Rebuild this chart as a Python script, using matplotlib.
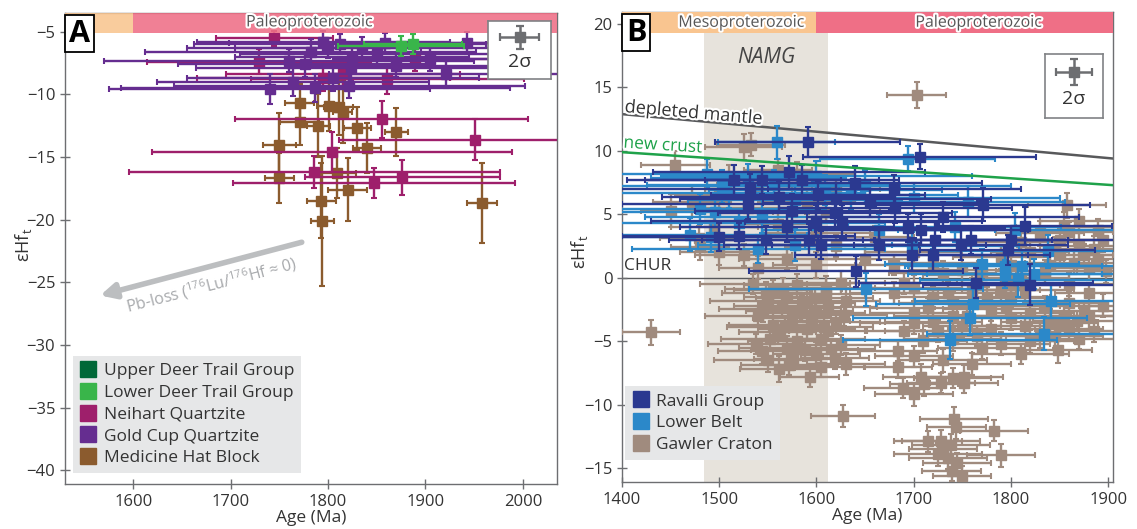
import matplotlib
matplotlib.use('Agg')
import matplotlib.pyplot as plt
from matplotlib.lines import Line2D
from matplotlib.patches import Rectangle
import matplotlib.patheffects as pe

plt.rcParams['font.family'] = ['Open Sans', 'DejaVu Sans']
plt.rcParams['mathtext.fontset'] = 'custom'
plt.rcParams['mathtext.rm'] = 'Open Sans'
plt.rcParams['mathtext.it'] = 'Open Sans:italic'

# ---------------- Panel A data ----------------
gold_age  = [1795, 1812, 1835, 1858, 1943, 1782, 1825, 1760, 1776, 1824, 1905, 1921, 1805, 1764, 1740, 1822, 1787, 1850, 1870, 1800]
gold_ehf  = [-5.8, -6.0, -6.3, -5.9, -5.9, -6.6, -7.0, -7.3, -7.6, -7.9, -7.2, -8.4, -8.7, -9.0, -9.6, -9.3, -9.5, -6.8, -7.7, -6.3]
gold_xerr = [130, 150, 180, 160, 60, 170, 120, 190, 130, 160, 100, 120, 150, 140, 165, 180, 200, 140, 110, 95]
gold_yerr = [0.9, 0.8, 0.9, 0.8, 0.9, 1.0, 0.9, 0.9, 1.0, 1.0, 0.9, 1.1, 1.0, 1.1, 1.2, 1.0, 1.1, 0.9, 0.9, 0.8]

neih_age  = [1745, 1729, 1815, 1861, 1889, 1795, 1855, 1951, 1804, 1786, 1876, 1847]
neih_ehf  = [-5.5, -7.4, -8.4, -8.8, -7.2, -8.7, -12.0, -13.6, -14.6, -16.2, -16.6, -17.1]
neih_xerr = [60, 115, 120, 140, 80, 130, 150, 140, 185, 190, 100, 145]
neih_yerr = [0.6, 1.0, 1.2, 1.2, 0.9, 1.0, 1.5, 1.6, 1.6, 1.3, 1.4, 1.2]

mhb_age  = [1771, 1801, 1811, 1771, 1790, 1830, 1870, 1750, 1840, 1750, 1809, 1820, 1793, 1794, 1958, 1815]
mhb_ehf  = [-10.7, -10.9, -11.0, -12.2, -12.5, -12.7, -13.0, -14.0, -14.3, -16.7, -16.3, -17.6, -18.5, -20.1, -18.7, -11.4]
mhb_xerr = [15, 12, 15, 20, 12, 14, 12, 17, 14, 15, 20, 20, 15, 12, 15, 10]
mhb_yerr = [1.5, 2.0, 2.2, 1.8, 2.5, 1.7, 1.9, 2.5, 2.0, 2.0, 2.0, 2.5, 3.0, 5.2, 3.2, 2.5]

ldt_age  = [1875, 1887]
ldt_ehf  = [-6.1, -6.0]
ldt_xerr = [65, 50]
ldt_yerr = [0.8, 0.8]

udt_age, udt_ehf, udt_xerr, udt_yerr = [], [], [], []

# ---------------- Panel B data ----------------
rav_age  = [1591, 1706, 1771, 1814, 1520, 1548, 1641, 1764, 1820, 1515, 1544, 1585, 1640, 1602, 1561, 1575,
            1619, 1655, 1681, 1626, 1708, 1722, 1694, 1664, 1698, 1749, 1759, 1720, 1592, 1605, 1797, 1530, 1570,
            1500, 1532, 1620, 1680, 1600, 1572, 1730, 1800]
rav_ehf  = [10.7, 9.55, 5.75, 4.1, 3.3, 3.0, 0.5, -0.4, -0.55, 7.7, 7.7, 7.7, 7.5, 6.5, 6.4, 5.3,
            5.1, 5.9, 5.5, 4.4, 3.8, 3.0, 3.9, 2.6, 1.8, 2.6, 3.0, 1.8, 3.0, 2.6, 2.2, 5.8, 4.0,
            3.2, 7.0, 6.2, 7.0, 4.5, 8.3, 4.8, 3.0]
rav_xerr = [95, 120, 110, 90, 120, 100, 110, 120, 110, 110, 120, 100, 130, 110, 120, 100,
            120, 110, 120, 100, 110, 120, 100, 110, 120, 110, 100, 120, 110, 100, 90, 130, 110,
            130, 150, 160, 130, 170, 140, 140, 140]
rav_yerr = [1.2, 1.0, 1.3, 1.5, 1.0, 1.1, 1.2, 1.2, 1.6, 1.2, 1.1, 1.2, 1.3, 1.1, 1.2, 1.3,
            1.2, 1.1, 1.2, 1.3, 1.2, 1.4, 1.1, 1.2, 1.3, 1.2, 1.1, 1.3, 1.2, 1.1, 1.2, 1.2, 1.2,
            1.1, 1.2, 1.3, 1.1, 1.2, 1.3, 1.2, 1.1]

lb_age  = [1559, 1694, 1651, 1761, 1758, 1737, 1834, 1841, 1807, 1838, 1794, 1487, 1503, 1530, 1556, 1578,
           1609, 1636, 1544, 1496, 1492, 1578, 1664, 1698, 1756, 1804, 1742, 1770, 1811, 1824, 1794,
           1480, 1470, 1510, 1520, 1600, 1650, 1700, 1540]
lb_ehf  = [10.7, 9.4, -0.9, -2.1, -3.2, -4.9, -4.4, -1.8, -0.2, 2.1, 0.9, 8.2, 7.2, 7.9, 7.3, 6.1,
           6.9, 6.5, 4.8, 5.2, 3.2, 2.6, 3.8, 2.5, 6.0, 3.8, 4.0, 1.1, 0.9, 0.3, 0.3,
           5.4, 3.4, 6.7, 4.3, 8.0, 7.2, 6.3, 2.3]
lb_xerr = [60, 90, 120, 100, 120, 110, 120, 140, 100, 120, 100, 110, 120, 100, 130, 110,
           120, 110, 120, 130, 110, 100, 120, 110, 100, 120, 110, 100, 120, 110, 100,
           130, 120, 140, 150, 160, 150, 150, 130]
lb_yerr = [1.3, 1.0, 1.3, 1.2, 1.3, 1.5, 1.3, 1.4, 1.3, 1.3, 1.2, 1.2, 1.3, 1.1, 1.2, 1.3,
           1.2, 1.1, 1.3, 1.2, 1.2, 1.3, 1.2, 1.1, 1.2, 1.3, 1.2, 1.2, 1.3, 1.2, 1.1,
           1.2, 1.3, 1.2, 1.1, 1.2, 1.3, 1.2, 1.1]

gaw_age = [1703, 1430, 1455, 1472, 1450, 1479, 1480, 1525, 1533,
           1500, 1530, 1560, 1600, 1620, 1650, 1680, 1570, 1600, 1540, 1700, 1720, 1750, 1660, 1590, 1620, 1500, 1560,
           1858, 1855, 1850, 1870, 1890, 1880, 1860, 1840, 1820, 1800, 1895, 1870, 1830, 1810, 1790, 1845, 1865, 1885, 1898,
           1555, 1570, 1590, 1610, 1630, 1545, 1600, 1575, 1620, 1590, 1560, 1605, 1580, 1544, 1576, 1593, 1619, 1561,
           1600, 1625, 1610, 1555, 1595, 1615, 1570, 1585, 1548, 1612,
           1680, 1700, 1720, 1740, 1760, 1780, 1800, 1820, 1840, 1860, 1880, 1700, 1720, 1750, 1780, 1800, 1830, 1860,
           1690, 1710, 1740, 1770, 1684, 1684, 1708, 1752, 1848, 1730, 1700, 1760, 1880, 1895, 1870, 1820, 1800, 1850,
           1689, 1711, 1728, 1752, 1700, 1740, 1627, 1741, 1783, 1744, 1715, 1728, 1730, 1790, 1739, 1735, 1745, 1725,
           1750, 1738,
           1535, 1550, 1565, 1580, 1598, 1625, 1540, 1552, 1568, 1583, 1608, 1628, 1538, 1588, 1605, 1630, 1572, 1550,
           1612, 1566,
           1690, 1715, 1735, 1755, 1775, 1795, 1815, 1835, 1855, 1875, 1725, 1765, 1790, 1815, 1845, 1868, 1885, 1700,
           1740, 1810,
           1730, 1770, 1790, 1810, 1835, 1860, 1875, 1890, 1850,
           1510, 1540, 1580, 1495, 1525, 1610]
gaw_ehf = [14.4, -4.3, 8.9, 6.0, 5.3, 3.1, 2.4, 10.3, 10.5,
           6.5, 5.5, 4.2, 3.5, 2.5, 1.5, 1.0, 1.5, 1.0, 0.8, 2.0, 1.2, 0.6, 3.2, 6.0, 7.0, 2.0, 8.5,
           5.7, 4.0, 3.0, 2.5, 1.5, 0.8, -0.5, 1.0, 2.0, 1.0, 3.0, 4.5, 3.5, 0.0, -1.0, 2.2, 1.2, 2.3, 0.5,
           -1.0, -1.5, -2.0, -1.3, -1.8, -2.5, -2.8, -3.2, -3.5, -4.0, -4.3, -4.8, -5.0, -5.8, -6.4, -7.8, -6.3, -7.2,
           -6.0, -5.3, -0.8, -3.7, -3.4, -5.6, -5.5, -2.4, -1.2, -4.2,
           -1.2, -0.8, -1.5, -2.0, -1.0, -2.5, -1.5, -2.8, -3.5, -2.0, -1.2, -2.8, -3.5, -3.8, -4.0, -3.2, -4.5, -4.0,
           -4.2, -5.0, -4.8, -5.5, -5.8, -7.0, -7.8, -7.8, -5.7, -6.5, -6.2, -6.8, -3.0, -2.2, -4.8, -5.0, -0.6, -3.6,
           -8.7, -8.4, -8.3, -8.3, -9.2, -7.9, -10.9, -11.1, -12.05, -11.8, -12.9, -12.9, -13.5, -14.0, -15.2, -14.2, -14.6, -13.9,
           -15.6, -13.2,
           -0.5, -1.8, -2.2, -0.6, -1.6, -0.4, -3.0, -4.8, -3.9, -2.6, -3.9, -2.9, -5.2, -5.7, -7.0, -6.8, -6.9, -6.5,
           -2.3, -0.9,
           -0.4, -2.4, -1.2, -3.0, -1.6, -2.2, -1.0, -2.2, -3.0, -2.6, -4.2, -4.6, -5.2, -3.8, -4.6, -3.4, -4.2, -3.6,
           -3.0, -6.0,
           0.4, 0.2, 1.6, 2.8, 0.5, 3.6, 1.8, 3.8, 1.8,
           8.0, 7.0, 8.2, 4.0, 1.8, 5.2]
gaw_xerr = [30, 30, 35, 40, 30, 40, 30, 40, 35,
            45, 50, 40, 55, 45, 50, 40, 50, 45, 40, 50, 45, 55, 40, 50, 45, 40, 35,
            40, 50, 45, 40, 35, 45, 50, 45, 40, 50, 30, 40, 45, 50, 40, 45, 50, 40, 30,
            40, 45, 50, 40, 35, 45, 50, 40, 45, 50, 40, 45, 50, 45, 40, 30, 35, 40,
            45, 40, 50, 45, 40, 45, 50, 40, 45, 40,
            45, 50, 40, 55, 45, 50, 40, 45, 50, 40, 35, 45, 50, 40, 45, 50, 40, 35,
            40, 45, 50, 45, 40, 35, 40, 40, 35, 45, 40, 40, 30, 25, 40, 45, 50, 40,
            40, 35, 35, 35, 40, 40, 33, 35, 35, 30, 35, 40, 35, 35, 30, 40, 35, 45,
            30, 40,
            55, 60, 50, 55, 60, 45, 55, 50, 60, 55, 50, 45, 50, 55, 45, 40, 50, 55,
            50, 60,
            55, 60, 50, 55, 60, 55, 50, 60, 55, 45, 55, 60, 50, 55, 50, 45, 40, 55,
            60, 50,
            55, 60, 50, 55, 50, 45, 40, 30, 55,
            50, 55, 60, 45, 50, 55]
gaw_yerr = [1.0, 1.0, 1.1, 1.2, 1.3, 1.0, 1.0, 1.0, 0.9,
            1.0, 0.9, 1.0, 0.8, 0.9, 1.0, 0.8, 0.9, 1.0, 0.9, 0.8, 0.9, 1.0, 0.9, 1.0, 0.9, 1.0, 0.9,
            1.0, 1.2, 0.9, 1.0, 0.9, 1.0, 0.9, 1.0, 0.8, 0.9, 1.0, 0.9, 1.0, 0.8, 0.9, 1.0, 0.9, 1.0, 0.9,
            0.8, 0.9, 1.0, 0.8, 0.9, 1.0, 0.9, 0.8, 0.9, 1.0, 0.9, 0.8, 0.9, 1.0, 0.9, 0.8, 0.9, 1.0,
            0.9, 0.8, 0.9, 1.0, 0.9, 0.8, 0.9, 1.0, 0.9, 0.8,
            0.9, 1.0, 0.8, 0.9, 1.0, 0.9, 0.8, 0.9, 1.0, 0.9, 0.8, 0.9, 1.0, 0.9, 0.8, 0.9, 1.0, 0.9,
            0.8, 0.9, 1.0, 0.9, 0.8, 0.9, 1.0, 0.9, 1.0, 0.9, 0.8, 0.9, 1.0, 0.9, 0.8, 0.9, 0.9, 0.9,
            0.8, 0.9, 0.8, 0.8, 0.9, 0.8, 0.9, 0.9, 0.8, 0.9, 0.8, 0.9, 0.8, 0.9, 0.8, 0.9, 0.8, 0.9,
            0.8, 0.9,
            0.8, 0.9, 0.8, 0.9, 0.8, 0.9, 0.8, 0.9, 0.8, 0.9, 0.8, 0.9, 0.8, 0.9, 0.8, 0.9, 0.8, 0.9,
            0.8, 0.9,
            0.9, 0.8, 0.9, 0.8, 0.9, 0.8, 0.9, 0.8, 0.9, 0.8, 0.9, 0.8, 0.9, 0.8, 0.9, 0.8, 0.9, 0.8,
            0.9, 0.8,
            0.9, 0.8, 0.9, 0.8, 0.9, 0.8, 0.9, 0.8, 0.9,
            0.9, 0.8, 0.9, 1.0, 0.9, 0.8]

# reference lines (age, eHf) endpoints
dm_age, dm_ehf = [1400, 1905], [12.9, 9.4]
nc_age, nc_ehf = [1400, 1905], [9.9, 7.3]
chur_ehf = 0

# periods
period_names = ['Mesoproterozoic', 'Paleoproterozoic']
period_bounds = [(1000, 1600), (1600, 2500)]
period_colors = ['#f9c590', '#ef6f86']
namg_range = (1484, 1612)

# 2 sigma symbol
sig_xerr, sig_yerr = 1.0, 1.0

# colours
C_GOLD = '#652d90'
C_NEIH = '#9e1f6b'
C_MHB = '#8b5b2e'
C_LDT = '#39b54a'
C_UDT = '#006838'
C_RAV = '#2b3990'
C_LB = '#2b88c9'
C_GAW = '#a08b7e'
SPINE = '#6d6e71'
TXT = '#333333'

fig = plt.figure(figsize=(11.37, 5.29), dpi=100)
axA = fig.add_axes([65/1137, 1-484/529, 492/1137, 471/529])
axB = fig.add_axes([622/1137, 1-482/529, 491/1137, 470/529])


def eb(ax, a, e, xe, ye, c, z):
    if len(a) == 0:
        return
    ax.errorbar(a, e, xerr=xe, yerr=ye, fmt='s', color=c, mfc=c, mec=c, ms=6.5,
                elinewidth=1.7, capsize=2.5, capthick=1.5, zorder=z)


def style(ax, lx, ly):
    for s in ax.spines.values():
        s.set_color(SPINE)
        s.set_linewidth(1.0)
    ax.tick_params(direction='inout', length=7, width=1.0, color=SPINE,
                   labelsize=12, labelcolor=TXT)
    ax.set_xlabel('Age (Ma)', fontsize=12.5, color=TXT, labelpad=0)
    ax.set_ylabel('εHf$_\\mathregular{t}$', fontsize=13, color=TXT)
    ax.yaxis.set_label_coords(lx, ly)


def sigma_box(fig, rect):
    ins = fig.add_axes(rect)
    ins.set_xlim(-1.6, 1.6)
    ins.set_ylim(-3.2, 1.8)
    ins.set_xticks([])
    ins.set_yticks([])
    for s in ins.spines.values():
        s.set_color('#808285')
        s.set_linewidth(1.2)
    ins.errorbar([0], [0.4], xerr=[sig_xerr], yerr=[sig_yerr], fmt='s', color='#6d6e71',
                 ms=7, elinewidth=1.8, capsize=3, capthick=1.6)
    ins.text(0, -1.7, '2σ', ha='center', va='center', fontsize=14, color=TXT)
    ins.set_zorder(20)


def panel_label(ax, s):
    ax.text(0.008, 0.988, s, transform=ax.transAxes, ha='left', va='top', fontsize=22,
            fontweight='bold', zorder=30,
            bbox=dict(boxstyle='square,pad=0.12', fc='white', ec='black', lw=1.3))

# ---------------- Panel A ----------------
axA.set_xlim(1530, 2035)
axA.set_ylim(-41.1, -3.5)
eb(axA, mhb_age, mhb_ehf, mhb_xerr, mhb_yerr, C_MHB, 3)
eb(axA, neih_age, neih_ehf, neih_xerr, neih_yerr, C_NEIH, 4)
eb(axA, gold_age, gold_ehf, gold_xerr, gold_yerr, C_GOLD, 5)
eb(axA, udt_age, udt_ehf, udt_xerr, udt_yerr, C_UDT, 6)
eb(axA, ldt_age, ldt_ehf, ldt_xerr, ldt_yerr, C_LDT, 6)
for (lo, hi), c in zip(period_bounds, period_colors):
    axA.add_patch(Rectangle((lo, -5.1), hi - lo, 1.6, fc=c, ec='none', alpha=0.88, zorder=8))
axA.text(1781, -4.25, period_names[1], ha='center', va='center', fontsize=11.5, color='#555555',
         zorder=9, path_effects=[pe.withStroke(linewidth=3, foreground='white')])
axA.set_xticks([1600, 1700, 1800, 1900, 2000])
axA.set_yticks([-5, -10, -15, -20, -25, -30, -35, -40])
style(axA, -0.062, 0.507)
axA.annotate('', xy=(1566, -26.05), xytext=(1773, -21.8),
             arrowprops=dict(arrowstyle='-|>,head_length=0.9,head_width=0.45', color='#bcbec0', lw=4,
                             shrinkA=0, shrinkB=0))
axA.text(1680, -25.2, 'Pb-loss ($^{176}$Lu/$^{176}$Hf ≈ 0)', rotation=14.5, rotation_mode='anchor',
         ha='center', va='center', fontsize=11.5, color='#a7a9ac')
hA = [Line2D([], [], marker='s', ls='none', color=c, ms=11) for c in [C_UDT, C_LDT, C_NEIH, C_GOLD, C_MHB]]
lA = ['Upper Deer Trail Group', 'Lower Deer Trail Group', 'Neihart Quartzite', 'Gold Cup Quartzite',
      'Medicine Hat Block']
legA = axA.legend(hA, lA, loc='lower left', bbox_to_anchor=(0.016, 0.023), borderaxespad=0,
                  fontsize=12.5, frameon=True, facecolor='#e6e7e8', edgecolor='none', framealpha=1,
                  fancybox=False, handlelength=1.0, handletextpad=0.4, labelspacing=0.32, borderpad=0.4,
                  labelcolor=TXT)
legA.set_zorder(25)
panel_label(axA, 'A')
sigma_box(fig, [(65 + 423) / 1137, 1 - 79 / 529, 63 / 1137, 58 / 529])

# ---------------- Panel B ----------------
axB.set_xlim(1400, 1905)
axB.set_ylim(-16.1, 20.95)
axB.axvspan(namg_range[0], namg_range[1], ymin=0, ymax=1, fc='#e7e3dc', ec='none', zorder=0)
for (lo, hi), c in zip(period_bounds, period_colors):
    axB.add_patch(Rectangle((lo, 19.3), hi - lo, 1.65, fc=c, ec='none', zorder=8))
axB.text(1523, 20.1, period_names[0], ha='center', va='center', fontsize=11.5, color='#555555', zorder=9,
         path_effects=[pe.withStroke(linewidth=3, foreground='white')])
axB.text(1767, 20.1, period_names[1], ha='center', va='center', fontsize=11.5, color='#555555', zorder=9,
         path_effects=[pe.withStroke(linewidth=3, foreground='white')])
axB.text(1548, 17.4, 'NAMG', ha='center', va='center', fontsize=15, style='italic', color='#444444')
axB.axhline(chur_ehf, color='#58595b', lw=1.0, zorder=1)
axB.plot(dm_age, dm_ehf, color='#58595b', lw=1.8, zorder=2)
axB.plot(nc_age, nc_ehf, color='#1fa24a', lw=1.8, zorder=7)
eb(axB, gaw_age, gaw_ehf, gaw_xerr, gaw_yerr, C_GAW, 3)
eb(axB, lb_age, lb_ehf, lb_xerr, lb_yerr, C_LB, 4)
eb(axB, rav_age, rav_ehf, rav_xerr, rav_yerr, C_RAV, 5)
axB.text(1402, 12.75, 'depleted mantle', rotation=-5, rotation_mode='anchor', ha='left', va='bottom',
         fontsize=13, color=TXT, zorder=9, path_effects=[pe.withStroke(linewidth=3, foreground='white')])
axB.text(1401, 9.95, 'new crust', rotation=-3.6, rotation_mode='anchor', ha='left', va='bottom',
         fontsize=12.5, color='#1fa24a', zorder=9, path_effects=[pe.withStroke(linewidth=3, foreground='white')])
axB.text(1402, 0.3, 'CHUR', ha='left', va='bottom', fontsize=12.5, color=TXT, zorder=9)
axB.set_xticks([1400, 1500, 1600, 1700, 1800, 1900])
axB.set_yticks([20, 15, 10, 5, 0, -5, -10, -15])
style(axB, -0.066, 0.49)
hB = [Line2D([], [], marker='s', ls='none', color=c, ms=11) for c in [C_RAV, C_LB, C_GAW]]
legB = axB.legend(hB, ['Ravalli Group', 'Lower Belt', 'Gawler Craton'], loc='lower left',
                  bbox_to_anchor=(0.006, 0.047), borderaxespad=0, fontsize=12.5, frameon=True,
                  facecolor='#e6e7e8', edgecolor='none', framealpha=1, fancybox=False, handlelength=1.0,
                  handletextpad=0.4, labelspacing=0.32, borderpad=0.4, labelcolor=TXT)
legB.set_zorder(25)
panel_label(axB, 'B')
sigma_box(fig, [1045 / 1137, 1 - 118 / 529, 58 / 1137, 64 / 529])

fig.savefig('out.png', dpi=100)
